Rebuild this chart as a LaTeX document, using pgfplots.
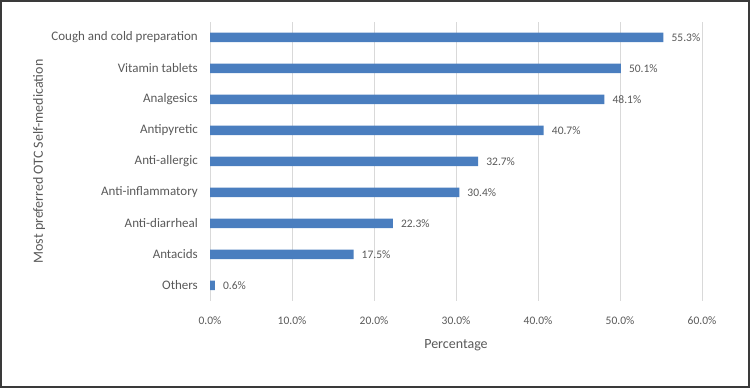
\documentclass[border=0pt]{standalone}
\usepackage{pgfplots}
\pgfplotsset{compat=1.18}
\usepackage{fontspec}
\setmainfont{Carlito}
\definecolor{barblue}{HTML}{4A7EBF}
\definecolor{txtgray}{HTML}{595959}
\definecolor{gridgray}{HTML}{D9D9D9}
\definecolor{framegray}{HTML}{3A3A3A}
\begin{document}
\begin{tikzpicture}[x=1pt,y=1pt]
\begin{axis}[
  at={(210pt,87pt)}, anchor=south west,
  scale only axis, width=492pt, height=279pt,
  xbar, bar width=9.5pt,
  xmin=0, xmax=60, ymin=-0.5, ymax=8.5,
  xtick={0,10,...,60},
  ytick={0,...,8},
  yticklabels={Others,Antacids,Anti-diarrheal,Anti-inflammatory,Anti-allergic,Antipyretic,Analgesics,Vitamin tablets,Cough and cold preparation},
  xticklabel={\pgfmathprintnumber[fixed,fixed zerofill,precision=1]{\tick}\%},
  /pgf/number format/assume math mode=true,
  axis line style={draw=none},
  major tick length=0pt,
  xmajorgrids, grid style={gridgray,line width=0.9pt},
  tick label style={txtgray},
  xticklabel style={font=\fontsize{11.5}{13}\selectfont, anchor=north, inner sep=0pt, yshift=-15pt},
  yticklabel style={font=\fontsize{13}{15}\selectfont, anchor=east, inner sep=0pt, xshift=-12pt},
  xlabel={Percentage},
  xlabel style={txtgray, font=\fontsize{14}{16}\selectfont, at={(axis description cs:0.5,0)}, anchor=base, yshift=-48pt},
  ylabel={Most preferred OTC Self-medication},
  every axis y label/.style={txtgray, font=\fontsize{14}{16}\selectfont, at={(axis description cs:0,0.5)}, xshift=-167pt, rotate=90, anchor=base},
  nodes near coords={\pgfmathprintnumber[fixed,fixed zerofill,precision=1]{\pgfplotspointmeta}\%},
  nodes near coords style={txtgray, font=\fontsize{11.5}{13}\selectfont, anchor=west, inner sep=0pt, xshift=8pt},
  clip=false,
]
\addplot[fill=barblue,draw=none] coordinates {
  (0.6,0) (17.5,1) (22.3,2) (30.4,3) (32.7,4) (40.7,5) (48.1,6) (50.1,7) (55.3,8)
};
\end{axis}
\pgfresetboundingbox
\path[use as bounding box] (0,0) rectangle (750,388);
\draw[framegray,line width=1.8pt] (0.9,0.9) rectangle (749.1,387.1);
\end{tikzpicture}
\end{document}
